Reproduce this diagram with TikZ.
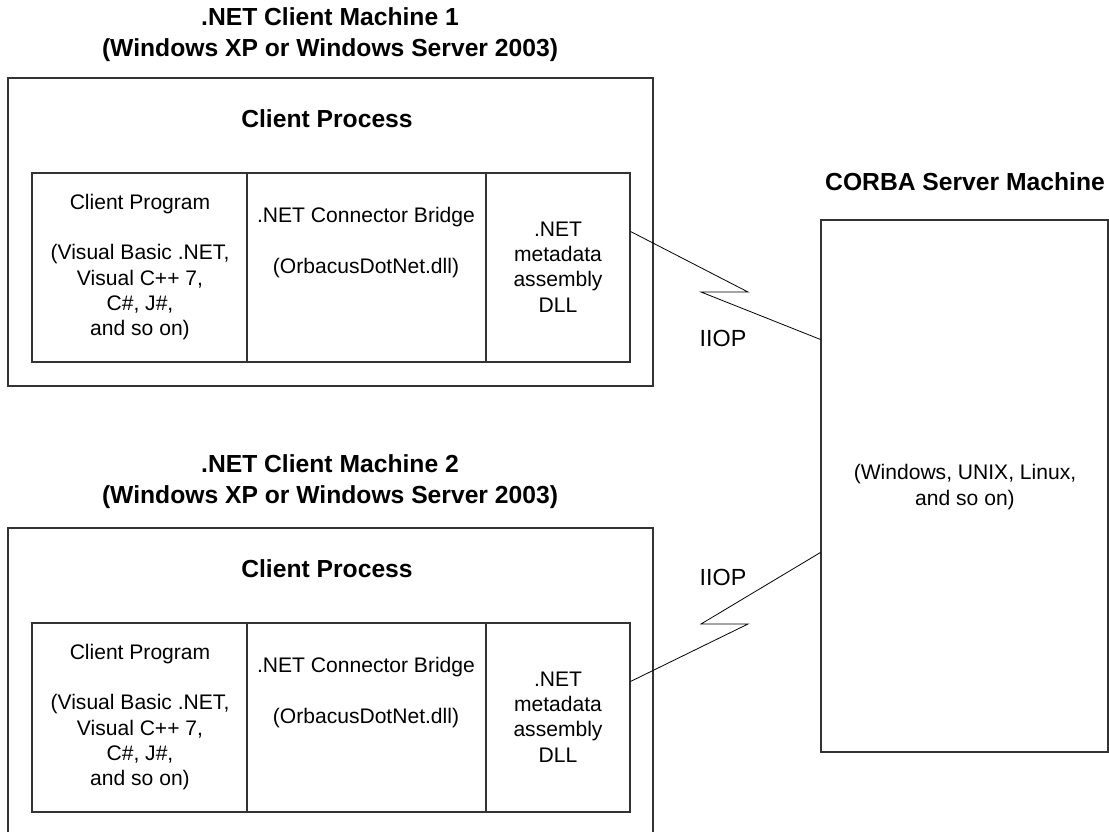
\documentclass[tikz,border=0pt]{standalone}
\usepackage{fontspec}
\setmainfont{Liberation Sans}
\usetikzlibrary{fit,calc}
\tikzset{
  box/.style={draw=black!80, line width=0.8pt, inner sep=0pt},
  titletext/.style={font=\fontsize{18.5pt}{23.25pt}\selectfont\bfseries, align=center, inner sep=0pt},
  bodytext/.style={font=\fontsize{15.8pt}{19pt}\selectfont, align=center, inner sep=0pt},
  proto/.style={font=\fontsize{17.5pt}{20pt}\selectfont, inner sep=0pt},
  link/.style={draw=black, line width=0.6pt, line join=miter}
}
\begin{document}
\begin{tikzpicture}[x=0.75pt,y=-0.75pt]
\useasboundingbox (0,0) rectangle (1109,831);
\clip (0,0) rectangle (1109,831);
\fill[white] (0,0) rectangle (1109,831);

% ---------- Machine 1 ----------
\node[titletext] (title1) at (330,34.5) {.NET Client Machine 1\\(Windows XP or Windows Server 2003)};
\node[box, fit={(8,78) (653,386)}] (outer1) {};
\node[titletext] (proc1) at (327,119) {Client Process};
\node[box, fit={(32,173) (247,362)}] (cellA1) {};
\node[box, fit={(247,173) (486,362)}] (cellB1) {};
\node[box, fit={(486,173) (630,362)}] (cellC1) {};
\node[bodytext] (txtA1) at (140,267) {Client Program\\[19pt](Visual Basic .NET,\\Visual C++ 7,\\C\#, J\#,\\and so on)};
\node[bodytext] (txtB1) at (366,242.5) {.NET Connector Bridge\\[19pt](OrbacusDotNet.dll)};
\node[bodytext] (txtC1) at (558,267) {.NET\\metadata\\assembly\\DLL};

% ---------- Machine 2 ----------
\node[titletext] (title2) at (330,482) {.NET Client Machine 2\\(Windows XP or Windows Server 2003)};
\node[box, fit={(8,528) (653,845)}] (outer2) {};
\node[titletext] (proc2) at (327,569) {Client Process};
\node[box, fit={(32,623) (247,812)}] (cellA2) {};
\node[box, fit={(247,623) (486,812)}] (cellB2) {};
\node[box, fit={(486,623) (630,812)}] (cellC2) {};
\node[bodytext] (txtA2) at (140,717) {Client Program\\[19pt](Visual Basic .NET,\\Visual C++ 7,\\C\#, J\#,\\and so on)};
\node[bodytext] (txtB2) at (366,692.5) {.NET Connector Bridge\\[19pt](OrbacusDotNet.dll)};
\node[bodytext] (txtC2) at (558,717) {.NET\\metadata\\assembly\\DLL};

% ---------- Server ----------
\node[titletext] (stitle) at (965,182) {CORBA Server Machine};
\node[box, fit={(821,220) (1108,752)}] (server) {};
\node[bodytext] (stxt) at (965,487) {(Windows, UNIX, Linux,\\and so on)};

% ---------- IIOP links ----------
\coordinate (z1a) at (748,292);
\coordinate (z1b) at (701,292);
\coordinate (z2a) at (701,624);
\coordinate (z2b) at (748,624);
\draw[link] ([yshift=-44.25pt]cellC1.north east) -- (z1a) -- (z1b) -- ([yshift=-90pt]server.north west);
\draw[link] ([yshift=-249.75pt]server.north west) -- (z2a) -- (z2b) -- ([yshift=-44.25pt]cellC2.north east);
\node[proto] (iiop1) at (723,338) {IIOP};
\node[proto] (iiop2) at (723,577) {IIOP};
\end{tikzpicture}
\end{document}
